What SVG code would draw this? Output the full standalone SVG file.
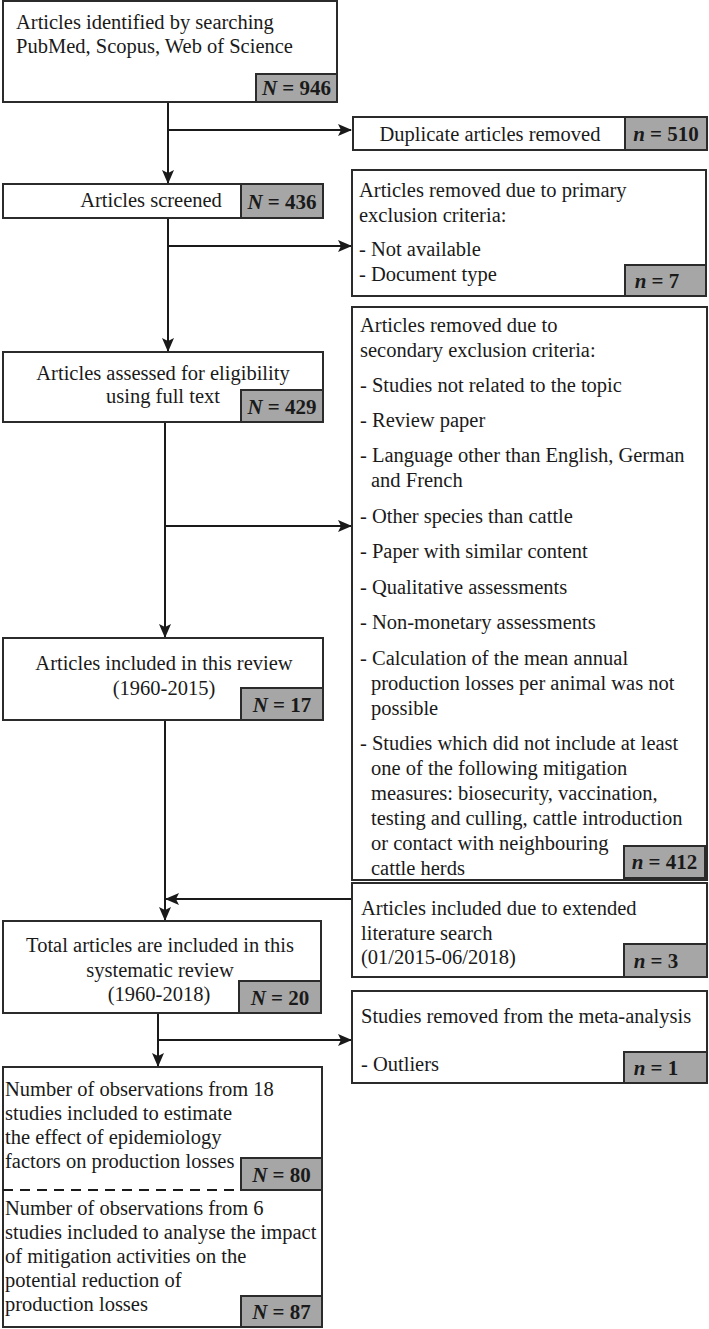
<svg xmlns="http://www.w3.org/2000/svg" width="709" height="1329" viewBox="0 0 709 1329">
<defs>
<style>
.box{fill:#fff;stroke:#2b2b2b;stroke-width:2}
.badge{fill:#a6a6a6;stroke:#2b2b2b;stroke-width:2}
.t{font-family:"Liberation Serif","Times New Roman",serif;font-size:20.5px;fill:#1a1a1a}
.c{text-anchor:middle}
.b{font-family:"Liberation Serif","Times New Roman",serif;font-size:21px;font-weight:bold;fill:#1a1a1a;text-anchor:middle}
.i{font-style:italic}
.ln{fill:none;stroke:#1a1a1a;stroke-width:2}
.dash{fill:none;stroke:#1a1a1a;stroke-width:2;stroke-dasharray:10 7}
</style>
<marker id="ah" markerUnits="userSpaceOnUse" markerWidth="14" markerHeight="12" refX="13" refY="6" orient="auto">
<path d="M0,0 L14,6 L0,12 L3,6 Z" fill="#1a1a1a"/>
</marker>
</defs>

<g id="connectors">
<path class="ln" d="M168,102 V183" marker-end="url(#ah)"/>
<path class="ln" d="M168,130 H351" marker-end="url(#ah)"/>
<path class="ln" d="M168,218 V351" marker-end="url(#ah)"/>
<path class="ln" d="M168,246 H351" marker-end="url(#ah)"/>
<path class="ln" d="M165,422 V637" marker-end="url(#ah)"/>
<path class="ln" d="M165,526 H351" marker-end="url(#ah)"/>
<path class="ln" d="M165,720 V920" marker-end="url(#ah)"/>
<path class="ln" d="M352,899 H166" marker-end="url(#ah)"/>
<path class="ln" d="M158,1013 V1066" marker-end="url(#ah)"/>
<path class="ln" d="M158,1040 H351" marker-end="url(#ah)"/>
</g>

<g id="n-identified">
<rect class="box" x="3" y="1" width="334" height="101"/>
<text class="t" x="16" y="29">Articles identified by searching</text>
<text class="t" x="16" y="53">PubMed, Scopus, Web of Science</text>
<rect class="badge" x="256" y="74" width="81" height="28"/>
<text class="b" x="296.5" y="95"><tspan class="i">N</tspan> = 946</text>
</g>

<g id="n-duplicates">
<rect class="box" x="353" y="117" width="354" height="33"/>
<text class="t c" x="490" y="141">Duplicate articles removed</text>
<rect class="badge" x="625" y="117" width="82" height="33"/>
<text class="b" x="666" y="141"><tspan class="i">n</tspan> = 510</text>
</g>

<g id="n-screened">
<rect class="box" x="3" y="184" width="320" height="34"/>
<text class="t c" x="151" y="207">Articles screened</text>
<rect class="badge" x="241" y="184" width="82" height="34"/>
<text class="b" x="282" y="209"><tspan class="i">N</tspan> = 436</text>
</g>

<g id="n-primary">
<rect class="box" x="352" y="170" width="354" height="126"/>
<text class="t" x="359" y="197">Articles removed due to primary</text>
<text class="t" x="359" y="222">exclusion criteria:</text>
<text class="t" x="359" y="256">- Not available</text>
<text class="t" x="359" y="281">- Document type</text>
<rect class="badge" x="625" y="265" width="81" height="31"/>
<text class="b" x="657" y="288"><tspan class="i">n</tspan> = 7</text>
</g>

<g id="n-eligibility">
<rect class="box" x="3" y="352" width="320" height="70"/>
<text class="t c" x="163" y="380">Articles assessed for eligibility</text>
<text class="t c" x="163" y="403">using full text</text>
<rect class="badge" x="241" y="390" width="82" height="32"/>
<text class="b" x="282" y="414"><tspan class="i">N</tspan> = 429</text>
</g>

<g id="n-secondary">
<rect class="box" x="352" y="307" width="355" height="573"/>
<text class="t" x="360" y="332">Articles removed due to</text>
<text class="t" x="360" y="357">secondary exclusion criteria:</text>
<text class="t" x="360" y="392">- Studies not related to the topic</text>
<text class="t" x="360" y="427">- Review paper</text>
<text class="t" x="360" y="462">- Language other than English, German</text>
<text class="t" x="371" y="487">and French</text>
<text class="t" x="360" y="523">- Other species than cattle</text>
<text class="t" x="360" y="558">- Paper with similar content</text>
<text class="t" x="360" y="594">- Qualitative assessments</text>
<text class="t" x="360" y="629">- Non-monetary assessments</text>
<text class="t" x="360" y="665">- Calculation of the mean annual</text>
<text class="t" x="371" y="690">production losses per animal was not</text>
<text class="t" x="371" y="715">possible</text>
<text class="t" x="360" y="750">- Studies which did not include at least</text>
<text class="t" x="371" y="775">one of the following mitigation</text>
<text class="t" x="371" y="800">measures: biosecurity, vaccination,</text>
<text class="t" x="371" y="825">testing and culling, cattle introduction</text>
<text class="t" x="371" y="850">or contact with neighbouring</text>
<text class="t" x="371" y="875">cattle herds</text>
<rect class="badge" x="624" y="846" width="81" height="32"/>
<text class="b" x="664.5" y="869"><tspan class="i">n</tspan> = 412</text>
</g>

<g id="n-included">
<rect class="box" x="3" y="638" width="320" height="82"/>
<text class="t c" x="164" y="670">Articles included in this review</text>
<text class="t c" x="164" y="695">(1960-2015)</text>
<rect class="badge" x="241" y="688" width="82" height="32"/>
<text class="b" x="282" y="712"><tspan class="i">N</tspan> = 17</text>
</g>

<g id="n-extended">
<rect class="box" x="352" y="883" width="355" height="94"/>
<text class="t" x="361" y="915">Articles included due to extended</text>
<text class="t" x="361" y="940">literature search</text>
<text class="t" x="361" y="964">(01/2015-06/2018)</text>
<rect class="badge" x="624" y="944" width="83" height="33"/>
<text class="b" x="656" y="968"><tspan class="i">n</tspan> = 3</text>
</g>

<g id="n-total">
<rect class="box" x="3" y="921" width="318" height="92"/>
<text class="t c" x="160" y="952">Total articles are included in this</text>
<text class="t c" x="160" y="977">systematic review</text>
<text class="t c" x="159" y="1001">(1960-2018)</text>
<rect class="badge" x="239" y="981" width="82" height="32"/>
<text class="b" x="280" y="1005"><tspan class="i">N</tspan> = 20</text>
</g>

<g id="n-removed-meta">
<rect class="box" x="352" y="991" width="355" height="92"/>
<text class="t" x="361" y="1023">Studies removed from the meta-analysis</text>
<text class="t" x="361" y="1071">- Outliers</text>
<rect class="badge" x="624" y="1052" width="83" height="31"/>
<text class="b" x="656" y="1075"><tspan class="i">n</tspan> = 1</text>
</g>

<g id="n-observations">
<rect class="box" x="3" y="1067" width="319" height="260"/>
<text class="t" x="5" y="1096">Number of observations from 18</text>
<text class="t" x="5" y="1120">studies included to estimate</text>
<text class="t" x="5" y="1144">the effect of epidemiology</text>
<text class="t" x="5" y="1168">factors on production losses</text>
<path class="dash" d="M3,1190 H241"/>
<rect class="badge" x="241" y="1158" width="81" height="32"/>
<text class="b" x="281.5" y="1182"><tspan class="i">N</tspan> = 80</text>
<text class="t" x="5" y="1215">Number of observations from 6</text>
<text class="t" x="5" y="1239">studies included to analyse the impact</text>
<text class="t" x="5" y="1263">of mitigation activities on the</text>
<text class="t" x="5" y="1287">potential reduction of</text>
<text class="t" x="5" y="1311">production losses</text>
<rect class="badge" x="241" y="1296" width="81" height="31"/>
<text class="b" x="281.5" y="1319"><tspan class="i">N</tspan> = 87</text>
</g>
</svg>
